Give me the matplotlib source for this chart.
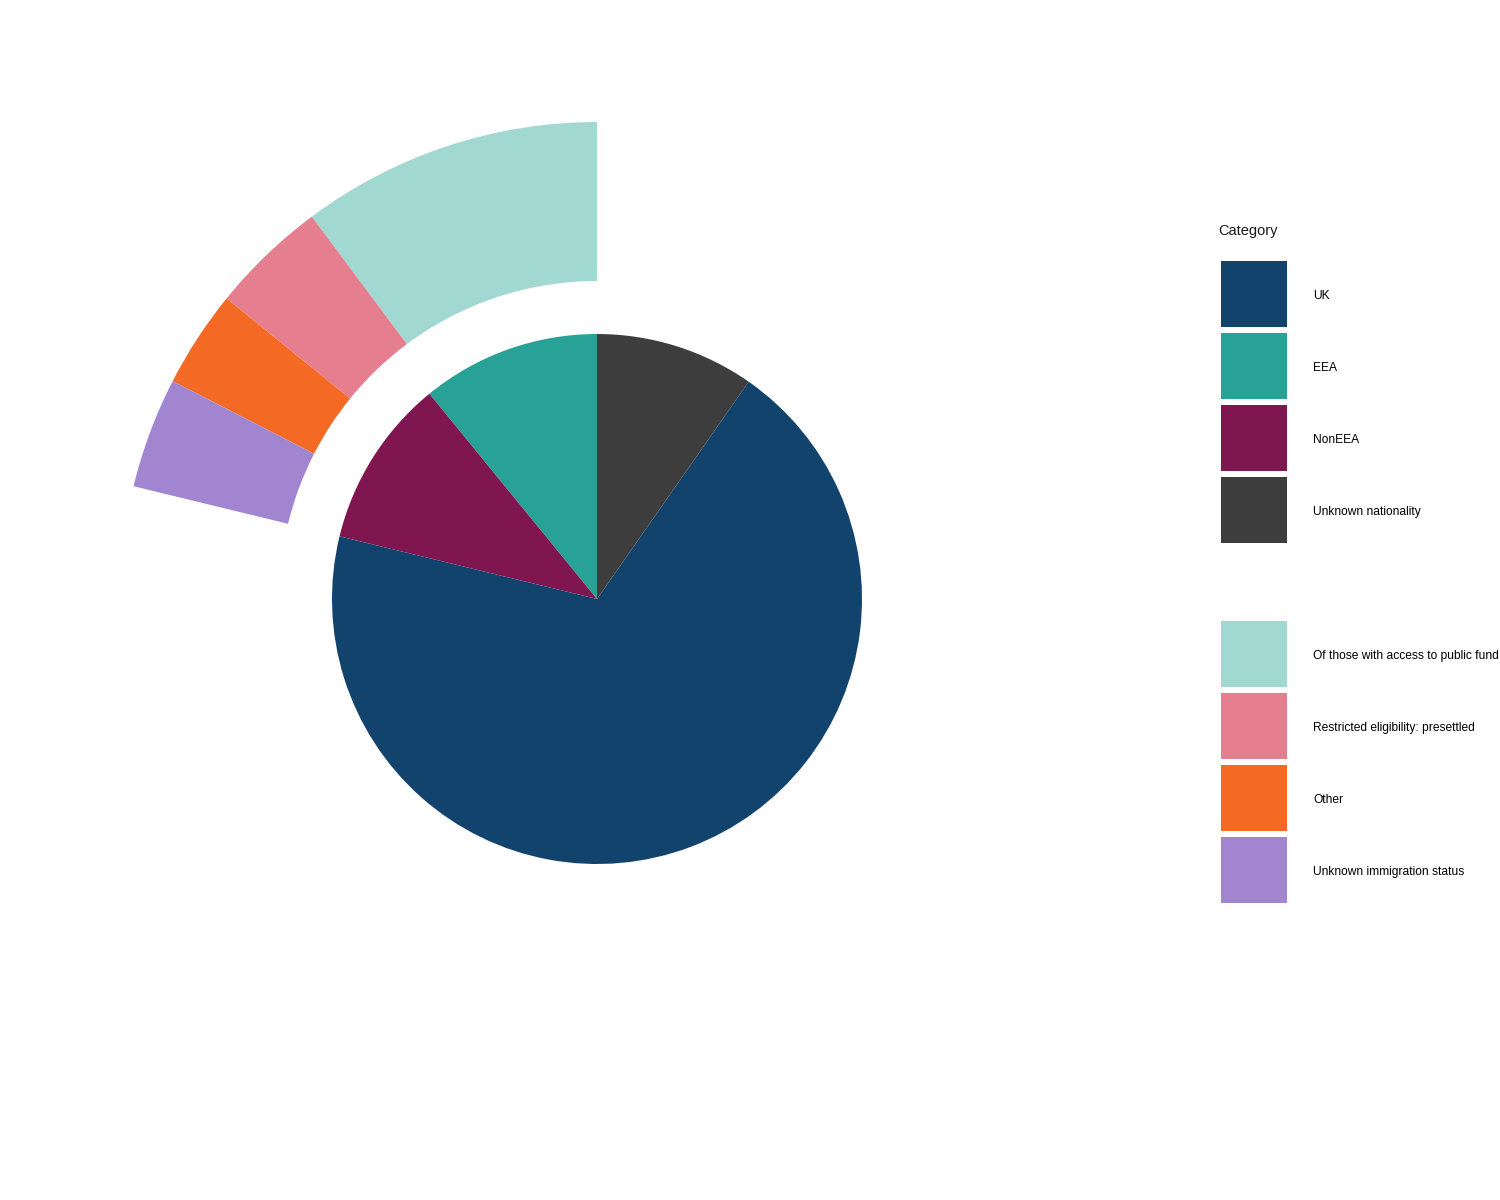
import matplotlib
matplotlib.use("Agg")
import matplotlib.pyplot as plt
from matplotlib.patches import Patch, Rectangle
from matplotlib.legend_handler import HandlerPatch

plt.rcParams['font.family'] = ['Liberation Sans', 'DejaVu Sans']

# Inner pie: nationality (% of total)
nat_labels = ["UK", "EEA", "NonEEA", "Unknown nationality"]
nat_values = [69.1, 10.9, 10.3, 9.7]
nat_colors = ["#12436D", "#28A197", "#801650", "#3D3D3D"]

# Outer ring: breakdown of EEA + NonEEA (% of total)
imm_labels = ["Of those with access to public fund", "Restricted eligibility: presettled",
              "Other", "Unknown immigration status"]
imm_values = [10.2, 3.95, 3.3, 3.75]
imm_colors = ["#A2D8D2", "#E57F8F", "#F46A25", "#A285D1"]

W, H = 1500, 1200
fig = plt.figure(figsize=(15, 12), dpi=100)
ax = fig.add_axes([0, 0, 1, 1])

# drawing order counterclockwise from top
order = [1, 2, 0, 3]
ax.pie([nat_values[i] for i in order], colors=[nat_colors[i] for i in order],
       startangle=90, counterclock=True, radius=1.0,
       wedgeprops=dict(linewidth=0))

remainder = sum(nat_values) - sum(imm_values)
ax.pie(imm_values + [remainder], colors=imm_colors + ["none"],
       startangle=90, counterclock=True, radius=1.8,
       wedgeprops=dict(width=0.6, linewidth=0))

cx, cy, r = 597, 1200 - 599, 265.0
ax.set_xlim(-cx / r, (W - cx) / r)
ax.set_ylim(-cy / r, (H - cy) / r)
ax.set_aspect('auto')
ax.axis('off')

fs = 8.64
fpx = fs * 100 / 72
PT = 72 / 100  # points per pixel
box = 66 * PT
shift = 3 * PT
lift = 3 * PT


def square(legend, orig_handle, xdescent, ydescent, width, height, fontsize):
    return Rectangle((-xdescent + shift, -ydescent + lift), box, height)


hm = {Patch: HandlerPatch(patch_func=square)}
hh = (66 / fpx - 0.245) / 0.65
common = dict(frameon=False, fontsize=fs, handlelength=69 / fpx, handleheight=hh,
              labelspacing=6 / fpx, handletextpad=26 / fpx, borderpad=0, borderaxespad=0,
              loc='upper left', alignment='left', handler_map=hm)

fig.text(1218 / W, 1 - 235 / H, "Category", fontsize=10.5, va='baseline', ha='left',
         color='#1a1a1a')

h1 = [Patch(facecolor=c, edgecolor='none') for c in nat_colors]
fig.legend(h1, nat_labels, bbox_to_anchor=(1218 / W, 1 - 264 / H), **common)

h2 = [Patch(facecolor=c, edgecolor='none') for c in imm_colors]
fig.legend(h2, imm_labels, bbox_to_anchor=(1218 / W, 1 - 624 / H), **common)

fig.savefig("out.png", dpi=100)
